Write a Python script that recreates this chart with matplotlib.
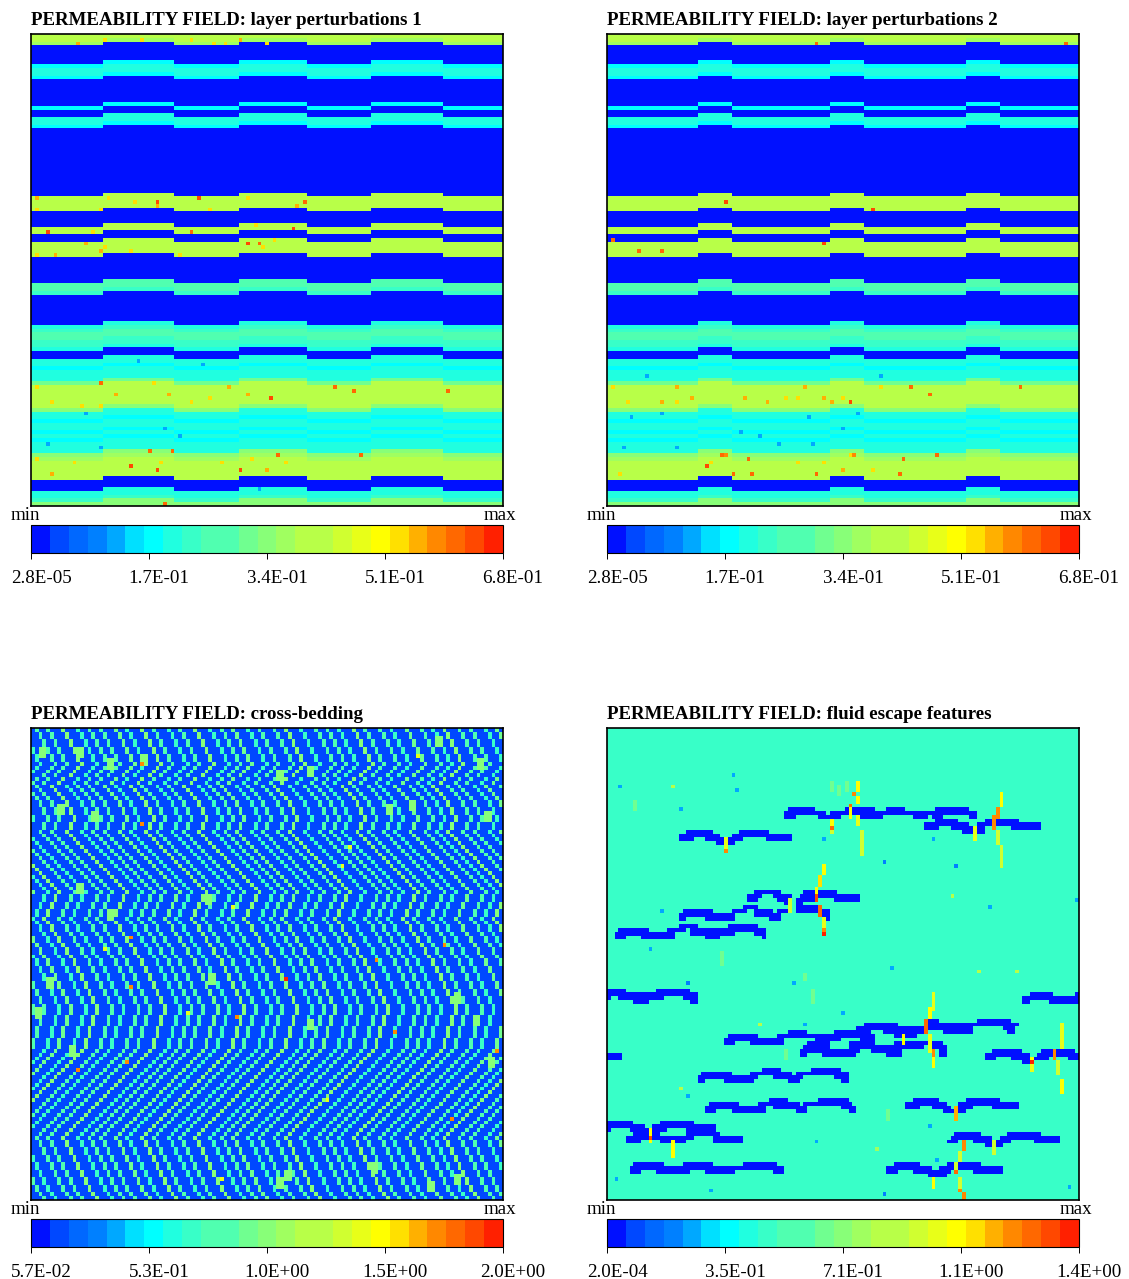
import numpy as np
import matplotlib
matplotlib.use('Agg')
import matplotlib.pyplot as plt
from matplotlib.colors import ListedColormap, Normalize
from matplotlib.cm import ScalarMappable
from matplotlib.transforms import ScaledTranslation

plt.rcParams['font.family'] = ['Liberation Serif', 'DejaVu Serif']

W, H = 1129, 1279
N = 125

# colour scale
bar_colors = ['#0010ff', '#0048ff', '#0068ff', '#0080ff', '#00a8ff', '#00e0ff', '#00ffff',
              '#20ffe0', '#38ffc8', '#50ffb0', '#50ffb0', '#70ff90', '#88ff78', '#a0ff60',
              '#b8ff48', '#b8ff48', '#d0ff30', '#e8ff18', '#ffff00', '#ffe000', '#ffb000',
              '#ff8800', '#ff6800', '#ff4800', '#ff2000']

titles = ['PERMEABILITY FIELD: layer perturbations 1', 'PERMEABILITY FIELD: layer perturbations 2',
          'PERMEABILITY FIELD: cross-bedding', 'PERMEABILITY FIELD: fluid escape features']
limits = [(2.8e-5, 0.68), (2.8e-5, 0.68), (5.7e-2, 2.0), (2.0e-4, 1.4)]
tick_labels = [['2.8E-05', '1.7E-01', '3.4E-01', '5.1E-01', '6.8E-01'],
               ['2.8E-05', '1.7E-01', '3.4E-01', '5.1E-01', '6.8E-01'],
               ['5.7E-02', '5.3E-01', '1.0E+00', '1.5E+00', '2.0E+00'],
               ['2.0E-04', '3.5E-01', '7.1E-01', '1.1E+00', '1.4E+00']]

# permeability of each row of the layered panels, top to bottom
b = .012
row_perm = [.40, .41, .38, b, b, b, b, b, .19, .2, .21, .18, b, b, b, b, b, b, b, .19,
            b, b, .2, .21, .19, b, b, b, b, b, b, b, b, b, b, b, b, b, b, b,
            b, b, b, .41, .42, .41, .42, b, b, b, b, .41, .39, b, b, .42, .41, .41, .42, b,
            b, b, b, b, b, b, .27, .25, .22, b, b, b, b, b, b, b, b, .21, .24, .25,
            .26, .24, .23, .21, b, b, .2, .2, .19, .21, .2, .2, .31, .41, .42, .40, .41, .42, .42, .35,
            .21, .2, .19, .2, .21, .19, .2, .19, .2, .21, .2, .33, .38, .42, .41, .42, .41, .42,
            b, b, b, .21, .2, .22, .33]

# columns where the layer blocks shift up and down
blocks_1 = [0, 19, 38, 55, 73, 90, 109, 125]
blocks_2 = [0, 24, 33, 59, 68, 95, 104, 125]

# single cells that stand out from their layer (row, col, permeability)
specks_1 = [(44, 33, .64), (43, 44, .64), (52, 4, .64), (52, 42, .6), (55, 57, .64), (51, 69, .64),
            (92, 18, .6), (96, 63, .64), (110, 37, .6), (114, 26, .64), (115, 33, .64), (110, 31, .6),
            (115, 55, .64), (111, 65, .6), (124, 35, .6), (93, 80, .62), (94, 85, .62), (94, 110, .62),
            (44, 72, .62), (55, 60, .6), (111, 87, .6),
            (1, 42, .52), (1, 29, .52), (1, 19, .52), (2, 12, .57), (1, 55, .57), (2, 51, .52), (2, 48, .52),
            (2, 62, .52), (43, 20, .52), (44, 27, .52), (46, 1, .52), (43, 1, .57), (46, 18, .52),
            (45, 33, .57), (46, 47, .52), (43, 57, .52), (45, 70, .57), (52, 16, .52), (50, 59, .52),
            (58, 1, .52), (56, 19, .52), (57, 18, .57), (58, 6, .57), (55, 14, .57), (57, 26, .52),
            (54, 64, .52), (56, 61, .52), (58, 39, .52), (97, 42, .52), (92, 32, .52), (93, 1, .52),
            (96, 47, .52), (93, 52, .57), (95, 22, .57), (95, 36, .57), (95, 57, .57), (98, 18, .52),
            (97, 5, .52), (98, 13, .52), (113, 50, .52), (113, 34, .52), (113, 11, .52), (116, 5, .57),
            (115, 62, .57), (113, 67, .52), (112, 58, .52), (112, 1, .52),
            (86, 28, .12), (106, 39, .12), (100, 14, .12), (108, 4, .12), (109, 18, .12), (120, 60, .12),
            (87, 45, .12), (104, 35, .12)]
specks_2 = [(44, 31, .64), (46, 70, .64), (2, 55, .62), (2, 121, .62), (55, 57, .64), (57, 8, .62),
            (57, 14, .62), (93, 80, .6), (95, 85, .6), (93, 109, .6), (114, 26, .62), (111, 30, .6),
            (111, 87, .6), (54, 1, .62),
            (93, 18, .57), (93, 52, .57), (96, 22, .57), (96, 36, .57), (96, 57, .57), (97, 64, .64),
            (97, 14, .56), (97, 42, .56), (97, 59, .56), (111, 31, .58), (112, 37, .6), (111, 65, .58),
            (112, 78, .6), (114, 26, .64), (116, 33, .62), (116, 38, .6), (116, 55, .62), (116, 77, .6),
            (93, 1, .53), (93, 72, .52), (96, 47, .52), (96, 62, .52), (96, 50, .52), (97, 5, .52),
            (97, 18, .52), (111, 64, .52), (113, 27, .52), (113, 50, .52), (113, 57, .52), (116, 3, .52),
            (115, 62, .55), (115, 70, .52),
            (100, 14, .11), (101, 6, .12), (105, 35, .12), (101, 53, .11), (104, 62, .12), (109, 18, .11),
            (109, 4, .12), (108, 45, .12), (108, 54, .11), (106, 40, .12), (100, 66, .12), (90, 72, .12),
            (90, 10, .12)]

# cross bedding: column shift of the laminae on each row
bed_offset = [0, 1, 1, 2, 2, 3, 3, 4, 4, 5, 4, 3, 2, 0, -1, -3, -2, -1, 0, 1, 1, 2, 2, 3,
              3, 2, 2, 1, 2, 3, 4, 5, 6, 7, 8, 9, 10, 11, 12, 13, 14, 15, 16, 17,
              16, 16, 15, 15, 14, 14, 13, 14, 15, 15, 16, 17, 17, 18, 19, 19, 20, 21, 21,
              22, 22, 23, 23, 24, 24, 25, 25, 26, 26, 27, 27, 27, 26, 26, 26, 25, 25, 25, 24, 24, 24,
              23, 22, 21, 20, 19, 18, 17, 16, 15, 14, 13, 12, 11, 10, 9, 8, 7, 6, 5, 4, 3, 2, 1, 0,
              1, 1, 2, 2, 3, 3, 4, 4, 5, 5, 6, 6, 7, 7, 8, 9]
bed_cols = [-27, -24, -20, -17, -13, -10, -6, -3, 1, 4, 8, 12, 15, 18, 22, 25, 29, 32, 36, 39,
            43, 47, 50, 53, 57, 60, 64, 67, 71, 75, 78, 81, 85, 88, 92, 95, 99, 103, 106, 109,
            113, 116, 120, 123, 127]
bed_perm = [.8, .9, .72, .95, .7, 1.0, .85, .72, .9, .8, 1.0, .7, .9, .8, .95, .75, 1.05, .8,
            .7, .9, 1.0, .75, .85, .95, .7, .9, .8, 1.05, .75, .9, .85, .7, 1.0, .8, .9, .75,
            .95, .85, .7, 1.0, .8, .9, .75, .95, .85]
bed_background = 0.2
# blotches where laminae merge (row, col, permeability), each 3 cells high and 2 wide
bed_blotches = [(7, 29, 1.05), (5, 12, 1.0), (5, 2, 1.0), (8, 20, 1.0), (22, 16, 1.0), (20, 7, 1.0),
                (41, 12, 1.05), (44, 46, 1.05), (11, 65, 1.0), (10, 73, 1.0), (20, 94, 1.0), (19, 100, 1.0),
                (2, 107, 1.05), (8, 118, 1.05), (22, 120, 1.0), (77, 73, 1.05), (70, 112, 1.0), (76, 117, 1.05),
                (87, 121, 1.05), (119, 65, 1.0), (117, 67, 1.0), (115, 90, 1.0), (120, 105, 1.05), (118, 112, 1.0),
                (48, 20, 1.0), (66, 4, 1.0), (74, 1, 1.0), (65, 47, 1.0), (84, 10, 1.0)]
hot_3 = [(55, 26, 1.7), (68, 26, 1.7), (76, 54, 1.7), (75, 41, 1.45), (58, 19, 1.45), (47, 53, 1.45),
         (61, 91, 1.7), (57, 109, 1.7), (31, 84, 1.45), (36, 82, 1.45), (7, 102, 1.45), (66, 67, 1.95),
         (80, 96, 1.7), (103, 111, 1.7), (98, 78, 1.45), (85, 123, 1.7), (88, 25, 1.7), (90, 12, 1.7),
         (119, 50, 1.45), (9, 29, 1.7), (25, 29, 1.7)]

# fluid escape dish structures: (row, first col, last col) of the low permeability runs
dish_runs = [
    (21, 48, 54), (21, 63, 64), (21, 65, 70), (21, 74, 78), (21, 87, 95),
    (22, 47, 57), (22, 59, 64), (22, 65, 76), (22, 77, 82), (22, 83, 97),
    (23, 47, 49), (23, 56, 61), (23, 66, 72), (23, 81, 84), (23, 86, 88), (23, 96, 97),
    (24, 87, 92), (24, 100, 108), (25, 84, 95), (25, 98, 101), (25, 103, 114),
    (26, 84, 87), (26, 91, 96), (26, 97, 99), (26, 107, 114), (27, 94, 96), (27, 97, 99),
    (27, 21, 27), (27, 35, 42), (28, 19, 29), (28, 33, 48), (29, 19, 22), (29, 26, 31),
    (29, 32, 35), (29, 42, 48), (30, 29, 31), (30, 32, 33),
    (43, 39, 45), (43, 52, 54), (43, 56, 60), (44, 37, 40), (44, 44, 48), (44, 51, 54), (44, 56, 66),
    (45, 37, 39), (45, 45, 48), (45, 50, 54), (45, 60, 66), (46, 47, 48), (46, 50, 51),
    (47, 36, 39), (47, 50, 55), (48, 20, 27), (48, 33, 36), (48, 39, 43), (48, 45, 48), (48, 50, 55),
    (48, 56, 58), (49, 19, 33), (49, 39, 45), (49, 57, 58), (50, 19, 20), (50, 26, 33), (50, 43, 45),
    (50, 57, 58), (52, 19, 23), (52, 32, 39), (53, 3, 10), (53, 16, 20), (53, 22, 27), (53, 28, 41),
    (54, 2, 17), (54, 22, 33), (54, 39, 41), (55, 2, 4), (55, 9, 17), (55, 26, 29), (55, 41, 41),
    (69, 0, 4), (69, 13, 21), (70, 0, 8), (70, 9, 14), (70, 13, 21), (71, 0, 0), (71, 3, 14),
    (71, 20, 23), (70, 20, 23), (72, 7, 10), (72, 22, 23),
    (70, 112, 117), (70, 124, 124), (71, 110, 124), (72, 110, 111), (72, 117, 124),
    (77, 85, 87), (77, 98, 106), (78, 68, 76), (78, 84, 108), (79, 66, 84), (79, 85, 96), (79, 105, 107),
    (80, 60, 69), (80, 48, 52), (80, 73, 83), (80, 89, 96), (80, 106, 107),
    (81, 32, 39), (81, 45, 70), (81, 76, 81), (82, 31, 46), (82, 55, 61), (82, 67, 70),
    (83, 31, 33), (83, 38, 46), (83, 53, 58), (83, 64, 70), (83, 76, 88),
    (84, 52, 58), (84, 64, 75), (84, 76, 83), (84, 85, 89),
    (85, 51, 66), (85, 70, 77), (85, 88, 89), (85, 102, 109), (85, 115, 123),
    (86, 51, 52), (86, 57, 65), (86, 74, 77), (86, 88, 89), (86, 100, 111), (86, 114, 124), (86, 0, 3),
    (87, 0, 3), (87, 100, 102), (87, 107, 111), (87, 113, 116), (87, 122, 124), (88, 110, 111),
    (90, 41, 45), (90, 54, 61), (91, 25, 32), (91, 38, 48), (91, 50, 63), (92, 24, 39), (92, 44, 51),
    (92, 60, 63), (93, 24, 25), (93, 31, 38), (93, 48, 50), (93, 62, 63),
    (98, 43, 47), (98, 56, 63), (99, 27, 34), (99, 40, 50), (99, 52, 64), (100, 26, 41), (100, 44, 52),
    (100, 62, 65), (101, 26, 28), (101, 33, 41), (101, 50, 52), (101, 64, 65),
    (98, 81, 87), (98, 95, 103), (99, 79, 89), (99, 93, 108), (100, 79, 82), (100, 86, 90), (100, 92, 96),
    (100, 102, 108), (101, 89, 91), (101, 92, 94),
    (104, 0, 6), (104, 14, 22), (105, 0, 9), (105, 12, 28), (106, 0, 0), (106, 6, 10), (106, 11, 15),
    (106, 21, 28), (107, 7, 10), (107, 11, 13), (107, 21, 29), (108, 5, 10), (108, 11, 17), (108, 18, 22),
    (108, 28, 35), (109, 5, 8), (109, 14, 17), (109, 18, 20), (109, 28, 35),
    (107, 92, 98), (107, 106, 114), (108, 91, 101), (108, 104, 119), (109, 90, 92), (109, 97, 102),
    (109, 103, 106), (109, 113, 119), (110, 100, 102), (110, 103, 104),
    (115, 7, 14), (115, 20, 27), (115, 36, 44), (116, 6, 31), (116, 32, 46), (117, 6, 8), (117, 13, 21),
    (117, 26, 29), (117, 30, 33), (117, 44, 46),
    (115, 76, 82), (115, 90, 92), (115, 93, 98), (116, 74, 85), (116, 88, 92), (116, 93, 104),
    (117, 74, 76), (117, 81, 86), (117, 87, 90), (117, 97, 104), (118, 85, 86), (118, 87, 89)]

# vertical escape pipes and faint streaks: (col, first row, last row, permeability)
pipes = [
    (59, 14, 16, .62), (63, 14, 16, .62), (61, 15, 17, .62), (7, 19, 21, .62), (30, 59, 62, .62),
    (52, 65, 66, .66), (54, 69, 72, .62), (47, 85, 87, .66), (74, 101, 103, .62),
    (66, 14, 16, 1.05), (65, 17, 17, 1.2), (66, 18, 19, 1.05), (64, 20, 20, 1.25), (64, 21, 23, 1.05),
    (66, 23, 25, 1.0), (67, 27, 33, .95), (59, 24, 25, 1.05), (59, 26, 26, 1.25), (59, 27, 27, .9),
    (31, 29, 31, 1.0), (31, 32, 32, 1.2), (97, 26, 29, 1.0), (102, 23, 26, 1.2), (103, 21, 23, 1.2),
    (103, 27, 30, .95), (104, 17, 20, 1.05), (104, 31, 36, .95),
    (57, 36, 38, 1.05), (56, 39, 41, 1.1), (55, 42, 43, 1.05), (55, 44, 45, 1.3), (48, 45, 48, .95),
    (56, 47, 49, 1.25), (57, 50, 52, 1.0), (57, 53, 53, 1.2), (57, 54, 54, 1.38),
    (86, 70, 74, 1.0), (85, 74, 76, 1.05), (84, 77, 80, 1.25), (85, 81, 85, 1.0), (86, 85, 86, 1.2),
    (86, 87, 89, 1.05), (78, 81, 83, 1.05), (11, 106, 107, 1.05), (11, 108, 108, 1.33), (11, 109, 109, 1.05),
    (17, 109, 113, 1.05), (92, 100, 103, 1.15), (102, 109, 112, .95), (94, 109, 111, 1.2),
    (93, 112, 114, .9), (92, 115, 116, .95), (92, 117, 117, 1.25), (93, 119, 121, .9), (93, 122, 122, 1.2),
    (94, 123, 124, 1.2), (86, 119, 121, 1.05), (112, 87, 87, 1.05), (112, 88, 88, 1.36), (112, 89, 90, 1.0),
    (118, 85, 87, 1.2), (119, 88, 91, .95), (120, 78, 84, 1.0), (120, 93, 96, 1.05)]
# single cells off the background (row, col, permeability)
field_specks = [(36, 92, .22), (35, 73, .22), (29, 57, .26), (16, 34, .24), (12, 33, .26), (48, 14, .26),
                (67, 21, .22), (63, 75, .24), (47, 101, .26), (67, 49, .24), (21, 19, .26), (29, 86, .26),
                (15, 3, .26), (45, 124, .26), (58, 11, .26), (119, 2, .24), (122, 27, .24), (123, 73, .22),
                (78, 52, .26), (97, 21, .24), (105, 85, .26), (114, 87, .26), (75, 62, .26), (121, 122, .24),
                (109, 55, .26), (15, 17, .85), (64, 98, .85), (64, 108, .85), (60, 30, .8), (44, 91, .85),
                (66, 52, .8), (95, 19, .8), (78, 40, .8), (111, 71, .75), (86, 47, .8)]
field_perm = 0.47
dish_perm = 0.01


def layer_panel(blocks, specks):
    profile = np.array(row_perm)
    lifted = np.append(profile[1:], profile[-1])
    grid = np.zeros((N, N))
    for i in range(len(blocks) - 1):
        col = blocks[i]
        end = blocks[i + 1]
        if i % 2 == 0:
            grid[:, col:end] = profile[:, None]
        else:
            grid[:, col:end] = lifted[:, None]
    for r, c, perm in specks:
        grid[r, c] = perm
    return grid


def bedding_panel():
    grid = np.full((N, N), bed_background)
    for start, perm in zip(bed_cols, bed_perm):
        for r in range(N):
            c = start + bed_offset[r]
            if 0 <= c < N:
                grid[r, c] = perm
    for r, c, perm in bed_blotches:
        grid[r:r + 3, c:c + 2] = perm
    for r, c, perm in hot_3:
        grid[r, c] = perm
    return grid


def escape_panel():
    grid = np.full((N, N), field_perm)
    for r, c, perm in field_specks:
        grid[r, c] = perm
    for r, first, last in dish_runs:
        grid[r, first:last + 1] = dish_perm
    for c, first, last, perm in pipes:
        grid[first:last + 1, c] = perm
    return grid


grids = [layer_panel(blocks_1, specks_1), layer_panel(blocks_2, specks_2),
         bedding_panel(), escape_panel()]
panel_x = [31, 607, 31, 607]
panel_y = [34, 34, 728, 728]
cmap = ListedColormap(bar_colors)

fig = plt.figure(figsize=(W / 100, H / 100), dpi=100)


def px_axes(x, y, w, h):
    return fig.add_axes([x / W, 1 - (y + h) / H, w / W, h / H])


for i in range(4):
    x = panel_x[i]
    y = panel_y[i]
    vmin, vmax = limits[i]
    norm = Normalize(vmin, vmax)
    ax = px_axes(x, y, 472, 472)
    ax.imshow(grids[i], cmap=cmap, norm=norm, aspect='auto', interpolation='nearest')
    ax.set_xticks([])
    ax.set_yticks([])
    for s in ax.spines.values():
        s.set_linewidth(1.2)
    fig.text(x / W, 1 - (y - 9) / H, titles[i], fontsize=13.6, fontweight='bold',
             ha='left', va='baseline')
    fig.text((x - 20) / W, 1 - (y + 486) / H, 'min', fontsize=13.7, ha='left', va='baseline')
    fig.text((x + 485) / W, 1 - (y + 486) / H, 'max', fontsize=13.7, ha='right', va='baseline')

    cax = px_axes(x, y + 491, 472, 28)
    cb = fig.colorbar(ScalarMappable(norm=norm, cmap=cmap), cax=cax, orientation='horizontal',
                      ticks=np.linspace(vmin, vmax, 5))
    cb.set_ticklabels(tick_labels[i])
    cb.ax.tick_params(length=4, width=0.7, labelsize=13.7, pad=8, colors='black')
    cb.minorticks_off()
    cb.outline.set_linewidth(0.8)
    # the tick labels sit a little right of their ticks in the original
    shift = ScaledTranslation(10 / 100, 0, fig.dpi_scale_trans)
    for label in cb.ax.get_xticklabels():
        label.set_transform(label.get_transform() + shift)

fig.savefig('out.png', dpi=100)
